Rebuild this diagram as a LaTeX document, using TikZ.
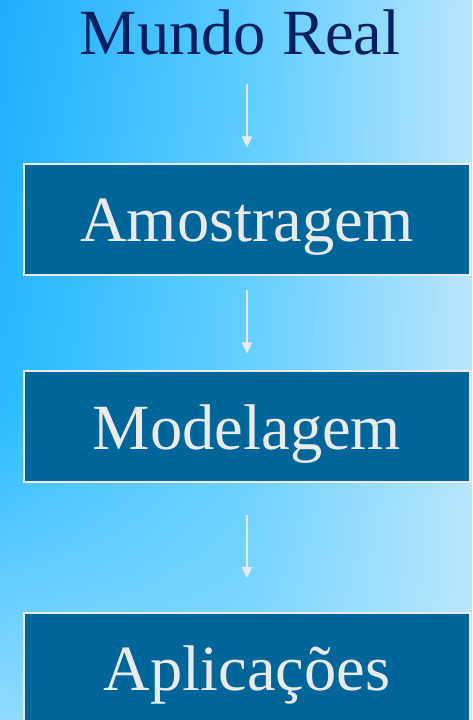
\documentclass[tikz,border=0pt]{standalone}
\usepackage{fontspec}
\setmainfont{Liberation Serif}
\usetikzlibrary{arrows.meta,shadings}

% degrade do fundo: grade de 3x3 cores
\definecolor{fundoAA}{RGB}{30,174,250}
\definecolor{fundoAB}{RGB}{90,203,255}
\definecolor{fundoAC}{RGB}{184,229,252}
\definecolor{fundoBA}{RGB}{40,186,255}
\definecolor{fundoBB}{RGB}{100,207,255}
\definecolor{fundoBC}{RGB}{184,229,252}
\definecolor{fundoCA}{RGB}{145,219,255}
\definecolor{fundoCB}{RGB}{130,216,255}
\definecolor{fundoCC}{RGB}{186,231,252}
\definecolor{azulCaixa}{RGB}{0,102,153}
\definecolor{azulTitulo}{RGB}{0,32,96}
\definecolor{cinzaClaro}{RGB}{234,234,234}

\begin{document}
\begin{tikzpicture}[x=1pt,y=1pt,
		caixa/.style={draw=cinzaClaro, line width=2pt, fill=azulCaixa, text=cinzaClaro,
			minimum width=446pt, minimum height=111pt, inner sep=0pt, text depth=0pt,
			font=\fontsize{64.5}{70}\selectfont},
		seta/.style={draw=cinzaClaro, line width=2pt, -{Triangle[width=10pt,length=11pt]}}]
		\useasboundingbox (0,0) rectangle (472,720);
		\clip (0,0) rectangle (472,720);
		% fundo
		\shade[upper left=fundoAA, upper right=fundoAB, lower left=fundoBA, lower right=fundoBB]
			(0,320) rectangle (240,720);
		\shade[upper left=fundoAB, upper right=fundoAC, lower left=fundoBB, lower right=fundoBC]
			(240,320) rectangle (472,720);
		\shade[upper left=fundoBA, upper right=fundoBB, lower left=fundoCA, lower right=fundoCB]
			(0,0) rectangle (240,320);
		\shade[upper left=fundoBB, upper right=fundoBC, lower left=fundoCB, lower right=fundoCC]
			(240,0) rectangle (472,320);
		% titulo e etapas
		\node[anchor=base, inner sep=0pt, text=azulTitulo, font=\fontsize{64.5}{70}\selectfont]
			(mundo) at (240,665) {Mundo Real};
		\node[caixa] (amostr) at (247,500) {Amostragem};
		\node[caixa] (model) at (247,293) {Modelagem};
		\node[caixa] (aplic) at (247,51.5) {Aplicações};
		% setas
		\draw[seta, shorten <=28pt, shorten >=16pt] (amostr.north |- mundo.south) -- (amostr.north);
		\draw[seta, shorten <=14pt, shorten >=17pt] (amostr.south) -- (model.north);
		\draw[seta, shorten <=32pt, shorten >=34pt] (model.south) -- (aplic.north);
	\end{tikzpicture}
\end{document}
